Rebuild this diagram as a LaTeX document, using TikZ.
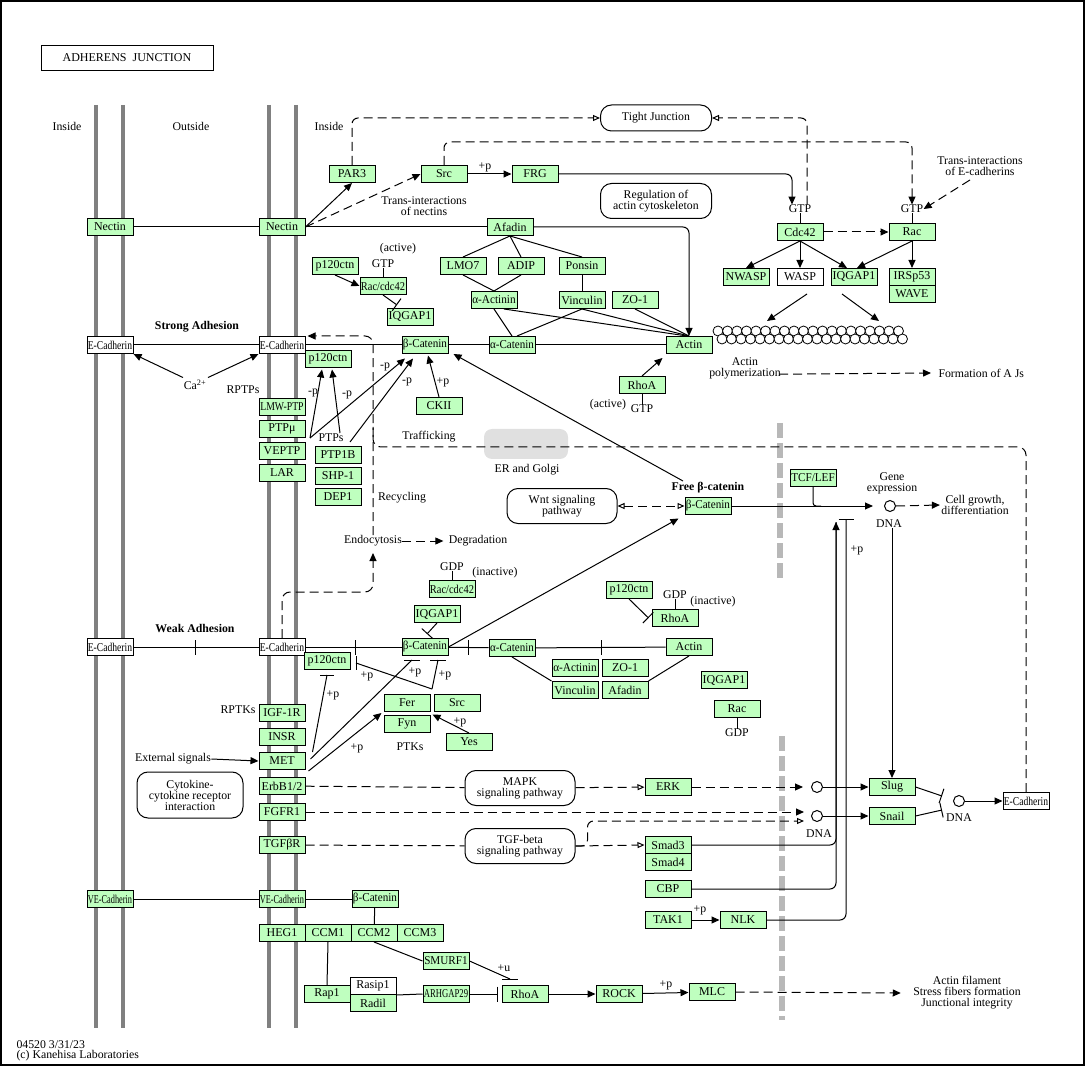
\documentclass[tikz,border=0pt]{standalone}
\usepackage{fontspec}
\setmainfont{Liberation Serif}
\usepackage{graphicx}
\usetikzlibrary{arrows.meta,calc}
\definecolor{kg}{RGB}{191,255,191}
\newcommand{\sx}[2]{\scalebox{#1}[1]{#2}}
\tikzset{
 gb/.style={draw, fill=kg, minimum width=46pt, minimum height=17pt, inner sep=0pt, line width=1pt, font=\fontsize{12}{12}\selectfont},
 wb/.style={gb, fill=white},
 tx/.style={inner sep=0pt, align=center},
 pw/.style={draw, rounded corners=11pt, inner sep=0pt, align=center, minimum width=110pt, minimum height=35pt, line width=1pt},
 ar/.style={-{Triangle[length=8pt,width=7pt]}},
 oar/.style={-{Triangle[open,length=7pt,width=6pt]}},
 ih/.style={-{Bar[width=15pt,line width=1pt]}},
 dsh/.style={dash pattern=on 9pt off 5pt},
 memb/.style={line width=4.5pt, draw=black!50},
 nuc/.style={line width=6pt, draw=black!28, dash pattern=on 15pt off 5pt},
 circ/.style={circle, draw, minimum size=11pt, inner sep=0pt},
}
\begin{document}
\begin{tikzpicture}[x=1pt,y=-1pt,line width=1pt,font=\fontsize{11.8}{11}\selectfont]
\useasboundingbox (0,0) rectangle (1088,1067);
\draw[line width=1.2pt] (1,1) rectangle (1084,1065);
\node[draw, minimum width=172pt, minimum height=25pt, inner sep=0pt, font=\fontsize{12}{12}\selectfont] (title) at (127,58) {ADHERENS\ \ JUNCTION};

% membranes and nuclear envelope
\foreach \x in {96,123,269,296} \draw[memb] (\x,105) -- (\x,1028);
\draw[nuc] (780,423) -- (780,580);
\draw[nuc] (782,736) -- (782,1020);

\node[tx] (lin1) at (67,126) {Inside};
\node[tx] (lout) at (191,126) {Outside};
\node[tx] (lin2) at (329,126) {Inside};

% ---------- top ----------
\node[gb] (nectL) at (110,227) {Nectin};
\node[gb] (nectR) at (282,227) {Nectin};
\node[gb] (par3) at (352,174) {PAR3};
\node[gb] (src1) at (444,174) {Src};
\node[gb] (frg) at (535,174) {FRG};
\node[gb] (afad1) at (510,227) {Afadin};
\node[pw, minimum width=111pt, minimum height=26pt] (tj) at (656,118) {Tight Junction};
\node[pw, minimum width=111pt, minimum height=35pt] (reg) at (656,201) {Regulation of\\actin cytoskeleton};
\node[tx] (tin) at (424,206) {Trans-interactions\\of nectins};
\node[tx] (pfrg) at (485,167) {+p};
\node[tx] (gtp1) at (800,209) {GTP};
\node[tx] (gtp2) at (912,209) {GTP};
\node[gb] (cdc42) at (800,232) {Cdc42};
\node[gb] (rac1) at (912,232) {Rac};
\node[gb] (nwasp) at (746,277) {NWASP};
\node[wb] (wasp) at (800,277) {WASP};
\node[gb] (iqg1) at (854,277) {IQGAP1};
\node[gb] (irsp) at (912,277) {IRSp53};
\node[gb] (wave) at (912,294) {WAVE};
\node[tx] (tie) at (980,166) {Trans-interactions\\of E-cadherins};
\node[gb] (p120a) at (335,266) {p120ctn};
\node[gb] (raccdc1) at (383,286) {\sx{.87}{Rac/cdc42}};
\node[gb] (iqg2) at (410,317) {IQGAP1};
\node[tx] (act1) at (398,249) {(active)};
\node[tx] (gtp3) at (383,264) {GTP};
\node[gb] (lmo7) at (463,266) {LMO7};
\node[gb] (adip) at (521,266) {ADIP};
\node[gb] (ponsin) at (582,266) {Ponsin};
\node[gb] (aact1) at (494,300) {\sx{.94}{α-Actinin}};
\node[gb] (vinc1) at (582,300) {Vinculin};
\node[gb] (zo1a) at (635,300) {ZO-1};

% ---------- strong adhesion ----------
\node[tx] (strong) at (197,327) {\textbf{Strong Adhesion}};
\node[wb] (ecL1) at (110,345) {\sx{.8}{E-Cadherin}};
\node[wb] (ecR1) at (282,345) {\sx{.8}{E-Cadherin}};
\node[gb] (p120b) at (328,359) {p120ctn};
\node[gb] (bcat1) at (425,345) {\sx{.93}{β-Catenin}};
\node[gb] (acat1) at (512,345) {\sx{.92}{α-Catenin}};
\node[gb] (actin1) at (689,345) {Actin};
\node[tx] (ca) at (195,385) {Ca\textsuperscript{2+}};
\node[tx] (rptps) at (243,390) {RPTPs};
\node[gb] (lmw) at (282,407) {\sx{.81}{LMW-PTP}};
\node[gb] (ptpmu) at (282,429) {PTPμ};
\node[gb] (veptp) at (282,451) {VEPTP};
\node[gb] (lar) at (282,473) {LAR};
\node[tx] (ptps) at (331,438) {PTPs};
\node[gb] (ptp1b) at (338,455) {PTP1B};
\node[gb] (shp1) at (338,476) {SHP-1};
\node[gb] (dep1) at (338,497) {DEP1};
\node[gb] (ckii) at (439,406) {CKII};
\node[tx] (mp1) at (313,393) {-p};
\node[tx] (mp2) at (347,395) {-p};
\node[tx] (mp3) at (385,367) {-p};
\node[tx] (mp4) at (407,382) {-p};
\node[tx] (pp1) at (443,382) {+p};
\node[gb] (rhoa1) at (642,385) {RhoA};
\node[tx] (act2) at (608,405) {(active)};
\node[tx] (gtp4) at (642,409) {GTP};
\node[tx] (apol) at (745,368) {Actin\\polymerization};
\node[tx, anchor=west] (faj) at (938,373) {Formation of A Js};
\node[tx] (traff) at (429,437) {Trafficking};
\node[fill=black!12, rounded corners=8pt, minimum width=84pt, minimum height=30pt, inner sep=0pt] (erg) at (526,444) {};
\node[tx] (ergt) at (527,470) {ER and Golgi};
\node[tx] (recyc) at (402,498) {Recycling};
\node[tx] (endo) at (373,541) {Endocytosis};
\node[tx] (degr) at (478,541) {Degradation};
\node[pw] (wnt) at (562,506) {Wnt signaling\\pathway};
\node[tx] (freebt) at (708,488) {\textbf{Free β-catenin}};
\node[gb] (bcatf) at (708,506) {\sx{.93}{β-Catenin}};
\node[gb] (tcf) at (813,478) {\sx{.93}{TCF/LEF}};
\node[tx] (gexp) at (892,483) {Gene\\expression};
\node[circ] (dna1) at (890,506) {};
\node[tx] (dna1t) at (889,524) {DNA};
\node[tx] (cellg) at (975,505) {Cell growth,\\differentiation};

% ---------- weak adhesion ----------
\node[tx] (weak) at (195,628) {\textbf{Weak Adhesion}};
\node[wb] (ecL2) at (110,647) {\sx{.8}{E-Cadherin}};
\node[wb] (ecR2) at (282,647) {\sx{.8}{E-Cadherin}};
\node[gb] (p120c) at (327,661) {p120ctn};
\node[gb] (bcat2) at (425,647) {\sx{.93}{β-Catenin}};
\node[gb] (acat2) at (512,648) {\sx{.92}{α-Catenin}};
\node[gb] (actin2) at (689,647) {Actin};
\node[tx] (gdp1) at (452,567) {GDP};
\node[tx] (inact1) at (495,573) {(inactive)};
\node[gb] (raccdc2) at (452,589) {\sx{.87}{Rac/cdc42}};
\node[gb] (iqg3) at (437,614) {IQGAP1};
\node[gb] (p120d) at (629,590) {p120ctn};
\node[tx] (gdp2) at (675,595) {GDP};
\node[tx] (inact2) at (713,602) {(inactive)};
\node[gb] (rhoa2) at (675,618) {RhoA};
\node[gb] (aact2) at (575,668) {\sx{.94}{α-Actinin}};
\node[gb] (zo1b) at (625,668) {ZO-1};
\node[gb] (vinc2) at (575,690) {Vinculin};
\node[gb] (afad2) at (625,690) {Afadin};
\node[gb] (iqg4) at (724,680) {IQGAP1};
\node[gb] (rac2) at (737,709) {Rac};
\node[tx] (gdp3) at (737,733) {GDP};
\node[gb] (fer) at (407,703) {Fer};
\node[gb] (src2) at (457,703) {Src};
\node[gb] (fyn) at (407,724) {Fyn};
\node[gb] (yes) at (469,742) {Yes};
\node[tx] (ptks) at (410,747) {PTKs};
\node[tx] (pw1) at (367,676) {+p};
\node[tx] (pw2) at (415,672) {+p};
\node[tx] (pw3) at (445,675) {+p};
\node[tx] (pw4) at (333,695) {+p};
\node[tx] (pw5) at (357,748) {+p};
\node[tx] (pw6) at (460,722) {+p};
\node[tx] (rptks) at (238,710) {RPTKs};
\node[gb] (igf) at (282,713) {IGF-1R};
\node[gb] (insr) at (282,737) {INSR};
\node[gb] (met) at (282,761) {MET};
\node[gb] (erbb) at (282,786) {ErbB1/2};
\node[gb] (fgfr) at (282,812) {FGFR1};
\node[gb] (tgfbr) at (282,845) {TGFβR};
\node[tx] (ext) at (173,759) {External signals};
\node[pw, minimum width=106pt, minimum height=46pt] (cyto) at (190,795) {Cytokine-\\cytokine receptor\\interaction};
\node[pw] (mapk) at (520,788) {MAPK\\signaling pathway};
\node[pw] (tgfb) at (520,846) {TGF-beta\\signaling pathway};
\node[gb] (erk) at (668,787) {ERK};
\node[gb] (smad3) at (668,845) {Smad3};
\node[gb] (smad4) at (668,862) {Smad4};
\node[gb] (cbp) at (668,889) {CBP};
\node[gb] (tak1) at (668,920) {TAK1};
\node[gb] (nlk) at (743,920) {NLK};
\node[tx] (ptak) at (700,910) {+p};
\node[tx] (pnlk) at (857,550) {+p};
\node[circ] (c1) at (817,787) {};
\node[circ] (c2) at (817,816) {};
\node[tx] (dna2t) at (819,834) {DNA};
\node[gb] (slug) at (892,787) {Slug};
\node[gb] (snail) at (892,816) {Snail};
\node[circ] (c3) at (959,801) {};
\node[tx] (dna3t) at (959,818) {DNA};
\node[wb] (ecN) at (1026,801) {\sx{.8}{E-Cadherin}};

% ---------- bottom ----------
\node[gb] (vecL) at (110,899) {\sx{.69}{VE-Cadherin}};
\node[gb] (vecR) at (282,899) {\sx{.69}{VE-Cadherin}};
\node[gb] (bcat3) at (375,899) {\sx{.93}{β-Catenin}};
\node[gb] (heg1) at (282,933) {HEG1};
\node[gb] (ccm1) at (328,933) {CCM1};
\node[gb] (ccm2) at (374,933) {CCM2};
\node[gb] (ccm3) at (420,933) {CCM3};
\node[gb] (smurf) at (446,961) {\sx{.93}{SMURF1}};
\node[gb] (rap1) at (327,994) {Rap1};
\node[wb] (rasip) at (373,986) {Rasip1};
\node[gb] (radil) at (373,1003) {Radil};
\node[gb] (arhgap) at (446,994) {\sx{.72}{ARHGAP29}};
\node[gb] (rhoa3) at (525,994) {RhoA};
\node[gb] (rock) at (619,994) {ROCK};
\node[gb] (mlc) at (712,992) {MLC};
\node[tx] (pu) at (504,968) {+u};
\node[tx] (pmlc) at (666,985) {+p};
\node[tx] (afl) at (967,993) {Actin filament\\Stress fibers formation\\Junctional integrity};
\node[tx, anchor=west] (foot1) at (16,1045) {04520 3/31/23};
\node[tx, anchor=west] (foot2) at (16,1056) {(c) Kanehisa Laboratories};

% actin filament
\foreach \i in {0,...,19} \draw[line width=0.8pt, fill=white] (718+9.5*\i,331) circle[radius=5pt];
\foreach \i in {0,...,19} \draw[line width=0.8pt, fill=white] (722+9.5*\i,339) circle[radius=5pt];

% ---------- connectors top ----------
\draw (nectL) -- (nectR);
\draw (nectR.east) -- (afad1.west);
\draw[ar] (nectR.east) -- (par3.south);
\draw[ar,dsh] (nectR.east) -- (src1.west);
\draw[ar, rounded corners=6pt] (afad1.east) -| (actin1.north);
\draw[oar, dsh, rounded corners=6pt] (par3.north) |- (tj.west);
\draw[oar, dsh, rounded corners=6pt] ([xshift=7pt]gtp1.north) |- (tj.east);
\draw[ar] (src1) -- (frg);
\draw[ar, rounded corners=6pt] (frg.east) -| ([xshift=-8pt]gtp1.north);
\draw[ar, dsh, rounded corners=6pt] (src1.north) -- ++(0,-23) -| (gtp2.north);
\draw (gtp1) -- (cdc42);
\draw (gtp2) -- (rac1);
\draw[ar, dsh] (cdc42) -- (rac1);
\draw[ar] (cdc42.south) -- (nwasp.north);
\draw[ar] (cdc42.south) -- (wasp.north);
\draw[ar] (cdc42.south) -- ([xshift=-7pt]iqg1.north);
\draw[ar] (rac1.south) -- ([xshift=3pt]iqg1.north);
\draw[ar] (rac1) -- (irsp);
\coordinate (f1) at (767,321);
\coordinate (f2) at (879,321);
\draw[ar] ($(wasp.south)+(7,8)$) -- (f1);
\draw[ar] ($(iqg1.south)+(-12,8)$) -- (f2);
\draw[ar, dsh] ($(tie.south)+(-10,4)$) -- (gtp2.east);
\draw (afad1.south) -- (lmo7.north);
\draw (afad1.south) -- (adip.north);
\draw (afad1.south) -- (ponsin.north);
\draw (lmo7.south) -- (aact1.north);
\draw (adip.south) -- (aact1.north);
\draw (ponsin) -- (vinc1);
\draw (aact1.south) -- (acat1.north);
\draw (vinc1.south) -- ([xshift=5pt]acat1.north);
\draw ([xshift=10pt]aact1.south) -- ([xshift=-2pt]actin1.north);
\draw (vinc1.south) -- (actin1.north);
\draw (zo1a.south) -- (actin1.north);
\draw[ar] (p120a.south) -- (raccdc1.west);
\draw (gtp3) -- (raccdc1);
\draw[ih] (raccdc1.south) -- ($(iqg2.north)+(-13,-3)$);
\draw[dsh, ar] ($(apol.south east)+(-2,-5)$) -- ($(faj.west)+(-7,0)$);

% strong adhesion row
\draw (ecL1) -- (ecR1);
\draw (ecR1) -- (bcat1);
\draw (bcat1) -- (acat1);
\draw (acat1) -- (actin1);
\draw[ar] ($(ca.north)+(-12,-2)$) -- (ecL1.south east);
\draw[ar] ($(ca.north)+(13,-2)$) -- (ecR1.south west);
\draw[ar] (rhoa1.north) -- ($(actin1.south west)+(-3,4)$);
\draw (rhoa1) -- (gtp4);
\coordinate (ps1) at (310,438);
\coordinate (ps2) at (340,433);
\coordinate (ps3) at (350,442);
\draw[ar] (ps1) -- ($(p120b.south)+(-6,1.5)$);
\draw[ar] (ps2) -- ($(p120b.south)+(4,1.5)$);
\draw[ar] (ps1) -- ($(bcat1.south)+(-20,4.5)$);
\draw[ar] (ps3) -- ($(bcat1.south)+(-12,4.5)$);
\draw[ar] (ckii.north) -- ($(bcat1.south)+(3,1.5)$);
\coordinate (fb1) at (683,481);
\draw[ar] (fb1) -- ($(bcat1.south east)+(5,0)$);
\draw[ar] (bcat2.east) -- ($(bcatf.south west)+(-6,3.5)$);

% trafficking / recycling / endocytosis
\coordinate (trc) at (373,447);
\draw[dsh, ar, rounded corners=8pt] (endo.north) |- ($(ecR1.north east)+(2,0)$);
\draw[dsh, rounded corners=8pt] (ecN.north) |- (trc) -- ++(0,-20);
\coordinate (endc) at (373,592);
\coordinate (endb) at (373,553);
\draw[dsh, ar, rounded corners=8pt] (ecR2.north) |- (endc) -- (endb);
\draw[dsh, ar] (endo.east) -- ($(degr.west)+(-5,0)$);

% free beta-catenin / nucleus
\draw[dsh, {Triangle[open,length=7pt,width=6pt]}-{Triangle[open,length=7pt,width=6pt]}] (wnt.east) -- (bcatf.west);
\draw[ar] (bcatf.east) -- ($(dna1.west)+(-11,0)$);
\draw[rounded corners=3pt] (tcf.south) |- ($(tcf.south)+(8,19)$);
\draw[dsh, ar] (dna1.east) -- ($(cellg.west)+(-1,0)$);
\draw[ar] (dna1t.south -| slug.north) -- (slug.north);
\coordinate (gin) at (836,522);
\coordinate (gin2) at (846,519);
\draw[ar, rounded corners=6pt] (smad3.east) -| (gin);
\draw[rounded corners=6pt] (cbp.east) -| (gin);
\draw[ih, rounded corners=6pt] (nlk.east) -| (gin2);
\draw[ar] (tak1) -- (nlk);
\draw[dsh] (erbb) -- (mapk);
\draw[dsh, oar] (mapk) -- (erk);
\draw[dsh, ar] (erk.east) -- ($(c1.west)+(-8,0)$);
\draw[ar] (c1) -- (slug);
\coordinate (fg1) at (804,812);
\draw[dsh, ar] (fgfr.east) -- (fg1);
\draw[dsh] (tgfbr) -- (tgfb);
\draw[dsh, oar] (tgfb.east) -- (smad3.west);
\coordinate (tg1) at (804,821);
\draw[dsh, oar, rounded corners=6pt] (tgfb.east) -- ++(12,0) |- (tg1);
\draw[ar] (c2) -- (snail);
\draw[ih] (slug.east) -- (942,796);
\draw[ih] (snail.east) -- (942,810);
\draw[ar] (c3) -- (ecN);
\draw[ar] (ext.east) -- (met.west);

% weak adhesion row
\draw (ecL2) -- (ecR2);
\draw (ecR2) -- (bcat2);
\draw (bcat2) -- (acat2);
\draw (acat2) -- (actin2);
\draw (195,640) -- (195,655);
\draw (355,640) -- (355,655);
\draw (468,640) -- (468,655);
\draw (601,640) -- (601,655);
\draw (gdp1) -- (raccdc2);
\draw[ih] (iqg3.south) -- ($(iqg3.south)+(-10,11)$);
\draw[ih] (p120d.south) -- ($(rhoa2.west)+(-3,0)$);
\draw (gdp2) -- (rhoa2);
\draw (acat2.south) -- (vinc2.north west);
\draw (actin2.south) -- (afad2.north east);
\draw (gdp3) -- (rac2);
\coordinate (bb1) at (412,660);
\coordinate (bb2) at (438,660);
\coordinate (bb3) at (356,663);
\coordinate (srcp) at (432,689);
\draw ($(met.east)+(5,-2)$) -- (bb1);
\draw ($(bb1)+(-8,0)$) -- ($(bb1)+(8,0)$);
\draw (srcp) -- (bb2);
\draw ($(bb2)+(-8,0)$) -- ($(bb2)+(8,0)$);
\draw (srcp) -- (bb3);
\draw ($(bb3)+(0,-7)$) -- ($(bb3)+(0,7)$);
\draw ($(met.east)+(7,-9)$) -- ($(p120c.south)+(0,5)$);
\draw ($(p120c.south)+(-7,5)$) -- ($(p120c.south)+(7,5)$);
\draw[ar] ($(met.east)+(3,10)$) -- ($(fer.west)+(-2,10)$);
\draw[ar] (yes.north) -- ($(fer.south east)+(2,2.5)$);

% bottom
\draw (vecL) -- (vecR);
\draw (vecR) -- (bcat3);
\draw (bcat3) -- (ccm2);
\draw (ccm1.south) -- (rap1.north);
\draw (ccm2.south) -- (smurf.west);
\coordinate (sb) at (510,979);
\draw (smurf.east) -- (sb);
\draw ($(sb)+(-8,0)$) -- ($(sb)+(8,0)$);
\draw (rasip.south east) -- (arhgap.west);
\draw[ih] (arhgap) -- ($(rhoa3.west)+(-4,0)$);
\draw[ar] (rhoa3) -- (rock);
\draw[ar] (rock) -- (mlc);
\draw[dsh, ar] (mlc.east) -- ($(afl.west)+(-12,0)$);
\end{tikzpicture}
\end{document}
